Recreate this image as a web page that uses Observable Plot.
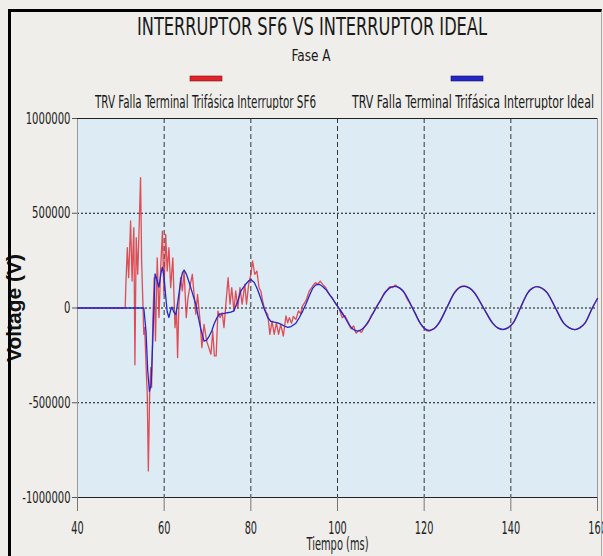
<!DOCTYPE html>
<html>
<head>
<meta charset="utf-8">
<script src="https://cdn.jsdelivr.net/npm/d3@7"></script>
<script src="https://cdn.jsdelivr.net/npm/@observablehq/plot@0.6"></script>
<style>
  html, body { margin: 0; padding: 0; background: #efeeea; }
  #wrap { position: relative; width: 603px; height: 556px; overflow: hidden; background: #efeeea; }
  #hdr { position: absolute; left: 0; top: 0; }
  #chart { position: absolute; left: 0; top: 110px; }
  #border { position: absolute; left: 8px; top: 9px; width: 590px; height: 560px;
            border-top: 3px solid #000; border-left: 3px solid #000; border-right: 1px solid #aaa;
            pointer-events: none; }
  .nar { font-family: "Liberation Sans Narrow", "Arial Narrow", "DejaVu Sans Condensed", "Liberation Sans", sans-serif; font-stretch: condensed; }
</style>
</head>
<body>
<div id="wrap">
  <svg id="hdr" width="603" height="110" class="nar"></svg>
  <div id="chart"></div>
  <div id="border"></div>
</div>
<script>
// ---- text content ----
const titleText = "INTERRUPTOR SF6 VS INTERRUPTOR IDEAL";
const subtitleText = "Fase A";
const seriesNames = ["TRV Falla Terminal Trifásica Interruptor SF6", "TRV Falla Terminal Trifásica Interruptor Ideal"];
const seriesColors = ["#e0242a", "#2626c8"];
const xLabel = "Tiempo (ms)";
const yLabel = "Voltage (V)";
const xTicks = [40, 60, 80, 100, 120, 140, 160];
const yTicks = [-1000000, -500000, 0, 500000, 1000000];
const xGrid = [60, 80, 100, 120, 140];
const yGrid = [-500000, 0, 500000];

// ---- SF6 breaker (red) ----
const redT = [40, 51.0, 51.2, 51.5, 51.8, 52.0, 52.25, 52.6, 52.8, 53.0, 53.25, 53.55, 53.9, 54.2, 54.55, 54.8,
  55.1, 55.3, 55.5, 55.9, 56.1, 56.35, 56.65, 56.9, 57.1, 57.4, 57.7, 58.0, 58.4, 58.8, 59.2, 59.6, 59.95,
  60.35, 60.7, 61.1, 61.5, 62.0, 62.5, 62.85, 63.1, 63.4, 63.8, 64.2, 64.6, 65.1, 65.5, 66.0, 66.5, 67.3,
  67.7, 68.3, 68.7, 69.2, 69.8, 70.3, 70.8, 71.2, 71.6, 72.0, 72.4, 72.9, 73.4, 73.8, 74.2, 74.75, 75.2,
  75.6, 76.1, 76.5, 77.0, 77.5, 78.0, 78.6, 79.0, 79.5, 80.0, 80.4, 80.9, 81.4, 81.9, 82.3, 82.7, 83.1,
  83.5, 83.9, 84.4, 84.9, 85.4, 85.9, 86.4, 86.9, 87.5, 88.1, 88.5, 88.9, 89.4, 89.8, 90.4, 91.0, 91.5,
  91.9, 92.7, 93.5, 94.3, 94.9, 95.4, 96.0, 96.6, 97.3, 98.1, 98.8, 99.6, 100.4, 101.1, 101.7];
const redV = [0, 0, 150000, 318000, 160000, 280000, 459000, 142000, 300000, 424000, -300000, 371000, 178000, 406000, 688000, 248000,
  20000, -139000, -104000, -350000, -455000, -860000, -455000, -315000, -420000, -51000, 160000, -174000, 265000, -51000, 213000, 406000, 72000,
  389000, 195000, 318000, 107000, 265000, -104000, -16000, -262000, 20000, 160000, 90000, 195000, -51000, 54000, 120000, 178000, -33000,
  72000, -69000, -209000, -86000, -174000, -209000, -244000, -121000, -253000, -253000, -16000, -51000, -25000, -104000, 10000, 160000, 20000,
  107000, -16000, 90000, 0, 107000, 20000, 125000, 20000, 125000, 178000, 248000, 178000, 195000, 107000, 90000, 40000, 0,
  -20000, -33000, -139000, -69000, -139000, -78000, -139000, -86000, -148000, -42000, -78000, -51000, -80000, -45000, -60000, -16000, -30000,
  10000, 37000, 90000, 116000, 134000, 125000, 142000, 125000, 107000, 72000, 54000, 20000, -5000, -51000, -42000];
const redTailT = [101.7, 102.5, 103.2, 103.7, 104.3, 104.9, 105.5, 106.2, 107.0, 107.8, 108.5, 109.2, 110.0, 110.8, 111.5, 112.1,
  112.7, 113.3, 114.0, 114.6, 115.3, 116.0, 116.6, 117.3, 118.0, 118.8, 119.5, 120.2, 121.0, 121.7, 122.4, 123.4,
  125.2, 127.0, 128.2, 129.3, 130.4, 131.6, 133.7, 135.8, 137.0, 138.2, 139.3, 140.5, 142.2, 143.9, 145.0, 146.1,
  147.2, 148.4, 150.3, 152.2, 153.5, 154.8, 155.9, 157.1, 158.8, 160];
const redTailV = [-42000, -75000, -110000, -95000, -132000, -118000, -128000, -100000, -80000, -40000, -15000, 15000, 40000, 80000, 95000, 112000,
  108000, 120000, 110000, 100000, 85000, 50000, 30000, 0, -30000, -70000, -95000, -112000, -122000, -115000, -108000, -80000,
  0, 82000, 110000, 116000, 106000, 82000, 0, -80000, -106000, -114000, -105000, -80000, 0, 80000, 105000, 113000,
  104000, 80000, 0, -80000, -105000, -114000, -105000, -80000, 0, 50000];

// ---- Ideal breaker (blue) ----
const blueT = [40, 55.3, 55.8, 56.2, 56.6, 57.0, 57.4, 57.9, 58.3, 58.8, 59.3, 59.6, 60.0, 60.3, 60.7, 61.1, 61.5, 61.8,
  62.2, 62.7, 63.2, 63.8, 64.2, 64.6, 65.1, 65.7, 66.5, 67.3, 67.8, 68.4, 69.2, 69.8, 70.4, 71.0, 71.5, 72.1,
  72.7, 73.6, 74.6, 75.4, 76.1, 76.9, 77.7, 78.8, 79.6, 80.0, 80.8, 81.5, 82.3, 83.1, 83.9, 84.6, 85.4, 86.2,
  86.9, 87.7, 88.5, 89.3, 90.4, 91.2, 92.0, 92.7, 93.5, 94.3, 95.0, 95.8, 96.5, 97.3, 98.5, 99.7, 100.6, 101.6];
const blueV = [0, 0, -120000, -330000, -440000, -400000, -150000, 180000, 150000, 110000, 190000, 215000, 160000, 75000, -20000, -50000, -10000, 5000,
  -20000, -35000, 40000, 140000, 185000, 200000, 180000, 140000, 80000, 20000, -40000, -105000, -175000, -170000, -148000, -120000, -86000, -55000,
  -33000, -30000, -25000, -22000, -15000, 30000, 90000, 125000, 145000, 150000, 135000, 100000, 50000, -5000, -50000, -70000, -75000, -78000,
  -85000, -95000, -102000, -98000, -80000, -50000, -15000, 20000, 65000, 105000, 122000, 125000, 115000, 98000, 60000, 20000, -10000, -45000];
const blueTailT = [100.6, 101.6,
  102.6, 103.6, 104.7, 105.8, 107.0, 108.9, 110.8, 112.0, 113.2, 114.4, 115.6, 117.3, 119.1, 120.2, 121.2, 122.3,
  123.4, 125.2, 127.0, 128.2, 129.3, 130.4, 131.6, 133.7, 135.8, 137.0, 138.2, 139.3, 140.5, 142.2, 143.9, 145.0,
  146.1, 147.2, 148.4, 150.3, 152.2, 153.5, 154.8, 155.9, 157.1, 158.8, 160];
const blueTailV = [-10000, -45000,
  -85000, -112000, -122000, -110000, -75000, 0, 75000, 105000, 114000, 105000, 75000, 0, -80000, -110000, -118000, -108000,
  -80000, 0, 80000, 108000, 114000, 106000, 80000, 0, -80000, -105000, -113000, -105000, -80000, 0, 80000, 105000,
  113000, 104000, 80000, 0, -80000, -105000, -114000, -105000, -80000, 0, 50000];

const red = redT.map((t, i) => ({t, v: redV[i]}));
const redTail = redTailT.map((t, i) => ({t, v: redTailV[i]}));
const blue = blueT.map((t, i) => ({t, v: blueV[i]}));
const blueTail = blueTailT.map((t, i) => ({t, v: blueTailV[i]}));

// ---- header (title, subtitle, legend) ----
const hdr = d3.select("#hdr");
hdr.append("text").attr("x", 312).attr("y", 35).attr("text-anchor", "middle")
  .attr("font-size", 25).attr("fill", "#1a1a1a")
  .attr("textLength", 350).attr("lengthAdjust", "spacingAndGlyphs").text(titleText);
hdr.append("text").attr("x", 311).attr("y", 61).attr("text-anchor", "middle")
  .attr("font-size", 16).attr("fill", "#1a1a1a")
  .attr("textLength", 39).attr("lengthAdjust", "spacingAndGlyphs").text(subtitleText);
const legend = [
  {sx: 190, tx: 95, tw: 221},
  {sx: 451, tx: 352, tw: 242}
];
legend.forEach((L, i) => {
  hdr.append("rect").attr("x", L.sx).attr("y", 76).attr("width", 32).attr("height", 5)
    .attr("fill", seriesColors[i]).attr("stroke", i ? "#10106a" : "#801010").attr("stroke-width", 0.6);
  hdr.append("text").attr("x", L.tx).attr("y", 108).attr("font-size", 18).attr("fill", "#1a1a1a")
    .attr("textLength", L.tw).attr("lengthAdjust", "spacingAndGlyphs").text(seriesNames[i]);
});

// ---- chart ----
const fontNarrow = '"Liberation Sans Narrow", "Arial Narrow", "DejaVu Sans Condensed", "Liberation Sans", sans-serif';
const chart = Plot.plot({
  width: 603,
  height: 446,
  marginTop: 8,
  marginLeft: 77,
  marginRight: 6,
  marginBottom: 59,
  style: {background: "transparent", fontFamily: fontNarrow, color: "#222", overflow: "visible"},
  x: {domain: [40, 160]},
  y: {domain: [-1000000, 1000000]},
  marks: [
    Plot.frame({fill: "#dcebf4", stroke: null}),
    Plot.ruleY(yGrid, {stroke: "#111", strokeWidth: 1, strokeDasharray: "2,2"}),
    Plot.ruleX(xGrid, {stroke: "#333", strokeWidth: 1, strokeDasharray: "5,3"}),
    Plot.ruleX([160], {stroke: "#999"}),
    Plot.ruleX([40], {stroke: "#999"}),
    Plot.ruleY([1000000], {stroke: "#222"}),
    Plot.ruleY([-1000000], {stroke: "#222"}),
    Plot.line(red, {x: "t", y: "v", stroke: seriesColors[0], strokeWidth: 1.3, strokeOpacity: 0.8}),
    Plot.line(redTail, {x: "t", y: "v", stroke: seriesColors[0], strokeWidth: 1.4, strokeOpacity: 0.8, curve: "catmull-rom"}),
    Plot.line(blue, {x: "t", y: "v", stroke: seriesColors[1], strokeWidth: 1.3}),
    Plot.line(blueTail, {x: "t", y: "v", stroke: seriesColors[1], strokeWidth: 1.3, curve: "catmull-rom"}),
    Plot.axisX({ticks: xTicks, tickSize: 14, tickPadding: 10, tickFormat: d => String(d), label: null, stroke: "#777", fill: "#222"}),
    Plot.axisY({ticks: yTicks, tickSize: 5, tickPadding: 2, tickFormat: d => String(d), label: null, stroke: "#555", fill: "#222"}),
    Plot.text([xLabel], {frameAnchor: "bottom", dy: 52, text: d => d, fill: "#222"}),
    Plot.text([yLabel], {frameAnchor: "left", textAnchor: "middle", dx: -63, rotate: -90, text: d => d, fontWeight: "bold", fill: "#111", fontFamily: '"Liberation Sans", Arial, sans-serif'})
  ]
});
document.getElementById("chart").appendChild(chart);

// narrow glyph widths and sizes of the original's labels
function narrowWidth(s, digit) {
  let w = 0;
  for (const c of s) w += (c === "-" || c === "\u2212") ? digit * 0.52 : digit;
  return w;
}
const sel = d3.select(chart);
sel.selectAll('g[aria-label="y-axis tick label"] text').each(function() {
  this.style.fontSize = "16px";
  this.setAttribute("textLength", narrowWidth(this.textContent, 6.4));
  this.setAttribute("lengthAdjust", "spacingAndGlyphs");
});
sel.selectAll('g[aria-label="x-axis tick label"] text').each(function() {
  this.style.fontSize = "18px";
  this.setAttribute("textLength", narrowWidth(this.textContent, 6.2));
  this.setAttribute("lengthAdjust", "spacingAndGlyphs");
});
sel.selectAll('g[aria-label="text"] text').each(function() {
  if (this.textContent === xLabel) {
    this.style.fontSize = "18px";
    this.setAttribute("textLength", 62);
    this.setAttribute("lengthAdjust", "spacingAndGlyphs");
  } else if (this.textContent === yLabel) {
    this.style.fontSize = "21px";
  }
});
</script>
</body>
</html>
